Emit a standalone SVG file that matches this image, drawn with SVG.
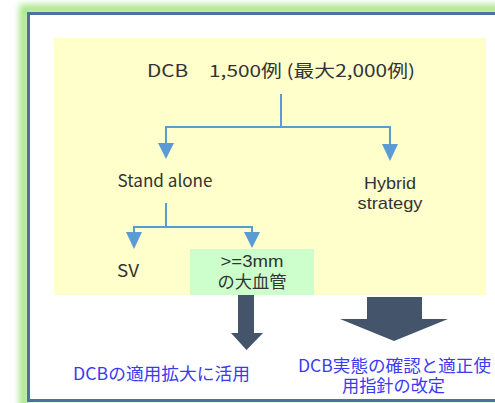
<svg xmlns="http://www.w3.org/2000/svg" width="495" height="403" viewBox="0 0 495 403">
<style>
.t{font-family:"Noto Sans CJK JP","Noto Sans",sans-serif;fill:#333333;text-anchor:middle;font-size:17px}
.l{font-family:"Liberation Sans",Arial,sans-serif;fill:#333333;text-anchor:middle;font-size:17px}
.b{font-family:"Noto Sans CJK JP","Noto Sans",sans-serif;fill:#3a3af0;text-anchor:middle;font-size:17px}
.c{fill:none;stroke:#5b9bd5;stroke-width:2}
.ah{fill:#5b9bd5}
.da{fill:#44546a}
</style>
<defs>
<filter id="glow" x="-10%" y="-10%" width="120%" height="120%">
<feGaussianBlur stdDeviation="3"/>
</filter>
</defs>
<rect x="0" y="0" width="495" height="403" fill="#ffffff"/>
<g id="frame">
<rect x="24" y="9" width="500" height="400" fill="none" stroke="#a8e68a" stroke-width="9" filter="url(#glow)"/>
<rect x="28.5" y="13.5" width="490" height="387" fill="#ffffff" stroke="#4a72a4" stroke-width="3"/>
</g>
<g id="panel">
<rect x="54" y="38" width="432" height="257" fill="#ffffcc"/>
</g>
<g id="title"><text class="t" x="281" y="77" font-size="20" textLength="268" lengthAdjust="spacingAndGlyphs">DCB　1,500例 (最大2,000例)</text></g>
<g id="standalone"><text class="t" x="165" y="187" textLength="95" lengthAdjust="spacingAndGlyphs">Stand alone</text></g>
<g id="hybrid"><text class="l" x="390" y="189" textLength="52" lengthAdjust="spacingAndGlyphs">Hybrid</text><text class="l" x="390" y="209" textLength="65" lengthAdjust="spacingAndGlyphs">strategy</text></g>
<g id="sv"><text class="t" x="128" y="277" textLength="22" lengthAdjust="spacingAndGlyphs">SV</text></g>
<g id="large">
<rect x="190" y="249" width="124" height="46" fill="#ccffcc"/>
<text class="l" x="252" y="267" textLength="63" lengthAdjust="spacingAndGlyphs">&gt;=3mm</text>
<text class="t" x="252" y="288" textLength="69" lengthAdjust="spacingAndGlyphs">の大血管</text>
</g>
<g id="connectors">
<path class="c" d="M281 94V127M166 144V127H390V144"/>
<path class="ah" d="M158 143H174L166 159Z"/>
<path class="ah" d="M382 144H398L390 161Z"/>
<path class="c" d="M166 203V227M134 233V227H252V233"/>
<path class="ah" d="M126 232H142L134 249Z"/>
<path class="ah" d="M244 232H260L252 248Z"/>
<path class="da" d="M238 295H254V333H263L246.5 350L231 333H238Z"/>
<path class="da" d="M367 297H422V319H448L394 341L340 319H367Z"/>
</g>
<g id="result1"><text class="b" x="161.5" y="380" textLength="177" lengthAdjust="spacingAndGlyphs">DCBの適用拡大に活用</text></g>
<g id="result2"><text class="b" x="394.5" y="372" textLength="193" lengthAdjust="spacingAndGlyphs">DCB実態の確認と適正使</text><text class="b" x="393.5" y="392" textLength="103" lengthAdjust="spacingAndGlyphs">用指針の改定</text></g>
</svg>
